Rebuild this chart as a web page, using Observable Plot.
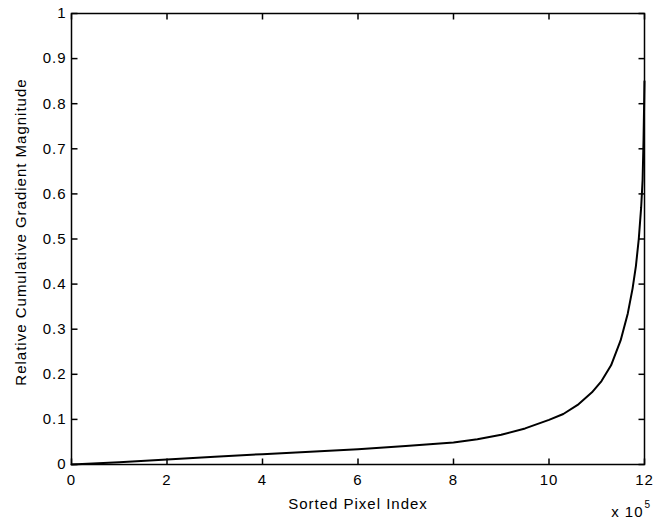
<!DOCTYPE html>
<html>
<head>
<meta charset="utf-8">
<script src="https://cdn.jsdelivr.net/npm/d3@7"></script>
<script src="https://cdn.jsdelivr.net/npm/@observablehq/plot@0.6"></script>
<style>
  html, body { margin: 0; padding: 0; background: #fff; }
  #chart svg { display: block; }
  #chart svg text { letter-spacing: 1px; }
</style>
</head>
<body>
<div id="chart"></div>
<script>
// Sorted pixel index (x 10^5) and relative cumulative gradient magnitude
const pixelIndex = [0, 1, 2, 3, 4, 5, 6, 7, 8, 8.5, 9, 9.5, 10, 10.3, 10.6, 10.9, 11.1, 11.3, 11.5, 11.65, 11.75, 11.82, 11.88, 11.93, 11.96, 11.98, 12];
const cumMagnitude = [0, 0.005, 0.011, 0.017, 0.023, 0.028, 0.034, 0.041, 0.049, 0.056, 0.066, 0.08, 0.099, 0.112, 0.132, 0.16, 0.185, 0.22, 0.275, 0.335, 0.39, 0.44, 0.5, 0.57, 0.63, 0.72, 0.85];
const xTicks = [0, 2, 4, 6, 8, 10, 12];
const yTicks = [0, 0.1, 0.2, 0.3, 0.4, 0.5, 0.6, 0.7, 0.8, 0.9, 1];
const xLabel = "Sorted Pixel Index";
const yLabel = "Relative Cumulative Gradient Magnitude";
const xExponent = ["x 10", "5"];

const data = pixelIndex.map((x, i) => ({x, y: cumMagnitude[i]}));
const fmtY = d => String(d);

const W = 672, H = 521, ML = 71, MR = 28, MT = 13, MB = 57;
const plotW = W - ML - MR, plotH = H - MT - MB;
const xDomain = [0, 12], yDomain = [0, 1];
const TICK = 6;
// tick length expressed in data units of each scale
const tx = TICK / plotW * (xDomain[1] - xDomain[0]);
const ty = TICK / plotH * (yDomain[1] - yDomain[0]);

const xTickRows = xTicks.map(x => ({x, y1: yDomain[0], y2: yDomain[0] + ty, y3: yDomain[1] - ty, y4: yDomain[1]}));
const yTickRows = yTicks.map(y => ({y, x1: xDomain[0], x2: xDomain[0] + tx, x3: xDomain[1] - tx, x4: xDomain[1]}));

const chart = Plot.plot({
  width: W,
  height: H,
  marginLeft: ML,
  marginRight: MR,
  marginTop: MT,
  marginBottom: MB,
  style: {fontFamily: "'Liberation Sans', Arial, sans-serif", fontSize: "15px", color: "#000", background: "#fff"},
  x: {domain: xDomain},
  y: {domain: yDomain},
  marks: [
    Plot.axisX({ticks: xTicks, tickSize: 0, tickPadding: 10, tickFormat: d => String(d), label: null, anchor: "bottom"}),
    Plot.axisY({ticks: yTicks, tickSize: 0, tickPadding: 5, tickFormat: fmtY, label: null, anchor: "left"}),
    Plot.frame({stroke: "#000", strokeWidth: 1.5, fill: "none"}),
    Plot.line(data, {x: "x", y: "y", stroke: "#000", strokeWidth: 2}),
    // inward ticks on all four sides
    Plot.link(xTickRows, {x1: "x", x2: "x", y1: "y1", y2: "y2", stroke: "#000", strokeWidth: 1.5}),
    Plot.link(xTickRows, {x1: "x", x2: "x", y1: "y3", y2: "y4", stroke: "#000", strokeWidth: 1.5}),
    Plot.link(yTickRows, {y1: "y", y2: "y", x1: "x1", x2: "x2", stroke: "#000", strokeWidth: 1.5}),
    Plot.link(yTickRows, {y1: "y", y2: "y", x1: "x3", x2: "x4", stroke: "#000", strokeWidth: 1.5}),
    Plot.text([xLabel], {frameAnchor: "bottom", lineAnchor: "middle", textAnchor: "middle", dy: 40, fill: "#000"}),
    Plot.text([yLabel], {frameAnchor: "left", lineAnchor: "middle", textAnchor: "middle", dx: -50, dy: -7, rotate: -90, fill: "#000"}),
    Plot.text([xExponent[0]], {frameAnchor: "bottom-right", lineAnchor: "middle", textAnchor: "end", dy: 48, dx: -1, fill: "#000"}),
    Plot.text([xExponent[1]], {frameAnchor: "bottom-right", lineAnchor: "middle", textAnchor: "start", dy: 40, dx: 0, fontSize: 10, fill: "#000"})
  ]
});
document.getElementById("chart").appendChild(chart);
</script>
</body>
</html>
